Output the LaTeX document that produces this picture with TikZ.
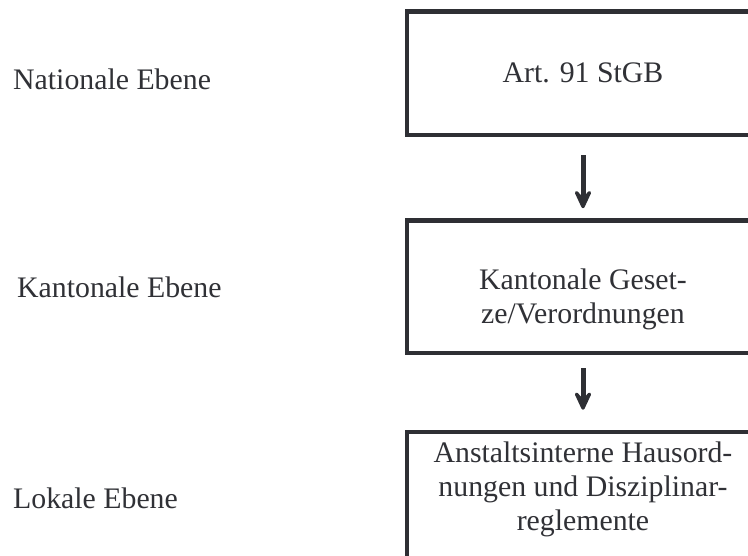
\documentclass[tikz,border=0pt]{standalone}
\usepackage{fontspec}
\setmainfont{Liberation Serif}
\usetikzlibrary{arrows.meta}
\definecolor{ink}{HTML}{2E2F34}
\definecolor{txt}{HTML}{303136}
\tikzset{
  levelbox/.style={draw=ink, line width=4.5pt, rectangle, minimum width=352pt, inner sep=0pt},
  lbl/.style={text=txt, font=\fontsize{29.8}{34}\selectfont, inner sep=0pt},
  boxtxt/.style={text=txt, font=\fontsize{29.8}{34}\selectfont, inner sep=0pt, align=center},
  flow/.style={draw=ink, line width=5pt, -{Stealth[length=27pt,width=25pt,inset=14pt,round]}}
}
\begin{document}
\begin{tikzpicture}[x=1pt,y=-1pt]
\useasboundingbox (0,0) rectangle (748,556);
\clip (0,0) rectangle (748,556);
\fill[white] (0,0) rectangle (748,556);
% boxes
\node[levelbox, minimum height=123.5pt] (b1) at (583,73.25) {};
\node[levelbox, minimum height=132.5pt] (b2) at (583,286.75) {};
\node[levelbox, minimum height=180pt] (b3) at (583,522) {};
% box texts (anchor base = baseline of the last line)
\node[boxtxt, anchor=base] (t1) at (583,83) {Art. 91 StGB};
\node[boxtxt, anchor=base] (t2) at (583,324) {Kantonale Geset-\\ze/Verordnungen};
\node[boxtxt, anchor=base] (t3) at (583,530) {Anstaltsinterne Hausord-\\nungen und Disziplinar-\\reglemente};
% level labels
\node[lbl, anchor=base west] (l1) at (13,90) {Nationale Ebene};
\node[lbl, anchor=base west] (l2) at (17,298) {Kantonale Ebene};
\node[lbl, anchor=base west] (l3) at (13,508) {Lokale Ebene};
% arrows
\draw[flow, shorten <=18pt, shorten >=10pt] (b1.south) -- (b2.north);
\draw[flow, shorten <=13pt, shorten >=20pt] (b2.south) -- (b3.north);
\end{tikzpicture}
\end{document}
